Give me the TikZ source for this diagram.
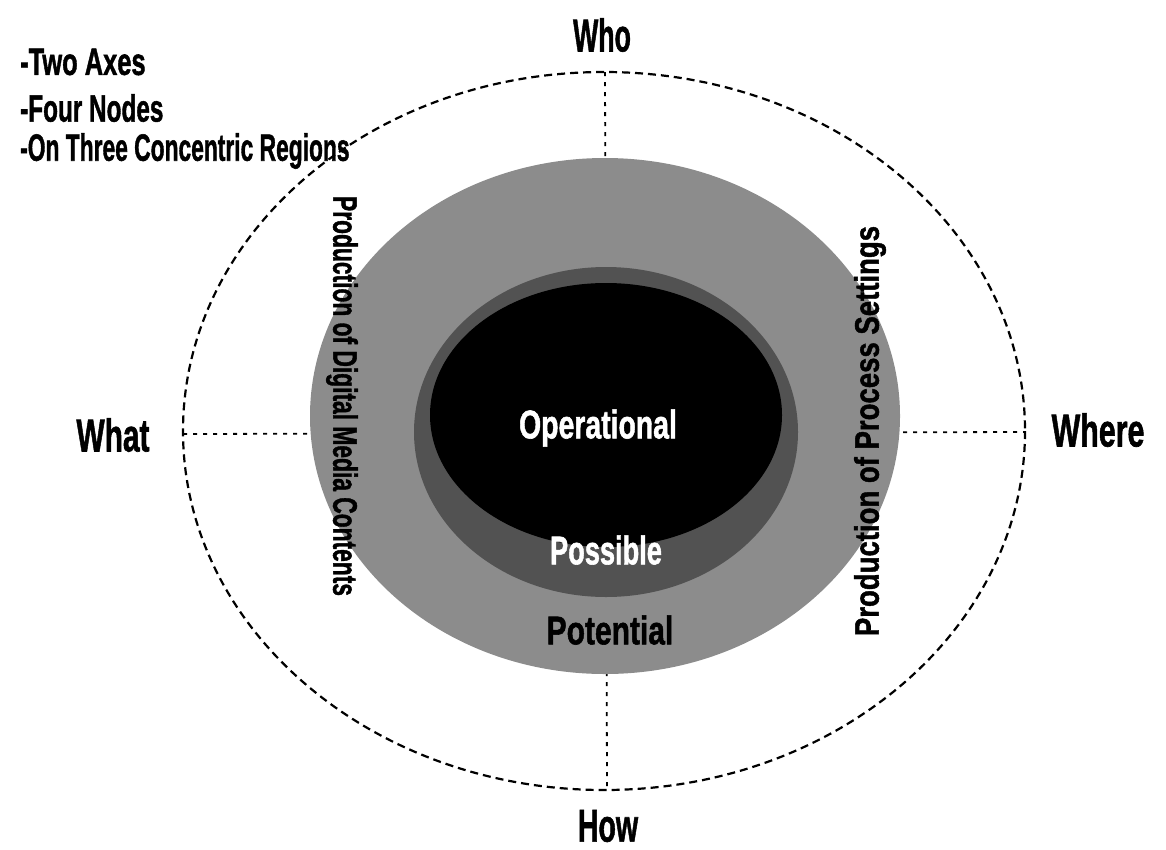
\documentclass[tikz,border=0pt]{standalone}
\usepackage{fontspec}
\setmainfont{Liberation Sans}[BoldFeatures={FakeBold=1.5}]
\usepackage{graphicx}
\newcommand\sqz[2]{\scalebox{#1}[1]{#2}}
\begin{document}
\begin{tikzpicture}[x=1pt,y=-1pt,
  big/.style={font=\fontsize{46}{50}\selectfont\bfseries, inner sep=0pt},
  listtxt/.style={font=\fontsize{38}{42}\selectfont\bfseries, inner sep=0pt, anchor=west},
  region/.style={font=\fontsize{40}{44}\selectfont\bfseries, inner sep=0pt},
  side/.style={font=\fontsize{34}{38}\selectfont\bfseries, inner sep=0pt},
  outer/.style={draw=black, line width=2.2pt, dash pattern=on 8pt off 5pt},
  axis/.style={draw=black, line width=1.8pt, dash pattern=on 4pt off 6pt}]
\useasboundingbox (0,0) rectangle (1166,849);
\coordinate (C) at (604,431);
\coordinate (top) at (605,72);
\coordinate (bot) at (607,790);
\coordinate (lft) at (183,434);
\coordinate (rgt) at (1025,432);
\draw[axis] (top) -- (bot);
\draw[axis] (lft) -- (rgt);
\draw[outer] (C) ellipse [x radius=421, y radius=359];
\fill[black!45] (605,416) ellipse [x radius=295, y radius=258];
\fill[black!68] (606,432) ellipse [x radius=192, y radius=165];
\fill[black] (606,415) ellipse [x radius=176, y radius=132];
% axis labels
\node[big] (who) at (602,35) {\sqz{0.58}{Who}};
\node[big] (what) at (113,435) {\sqz{0.65}{What}};
\node[big] (where) at (1098,430) {\sqz{0.66}{Where}};
\node[big] (how) at (608,826) {\sqz{0.62}{How}};
% list
\node[listtxt] (l1) at (20,62) {\sqz{0.67}{-Two Axes}};
\node[listtxt] (l2) at (20,108) {\sqz{0.64}{-Four Nodes}};
\node[listtxt] (l3) at (20,151) {\sqz{0.60}{-On Three Concentric Regions}};
% regions
\node[region, text=white] (op) at (598,428) {\sqz{0.71}{Operational}};
\node[region, text=white] (pos) at (606,550) {\sqz{0.68}{Possible}};
\node[region, text=black] (pot) at (610,630) {\sqz{0.75}{Potential}};
% side labels
\node[side, rotate=-90] (dig) at (342,396) {\sqz{0.67}{Production of Digital Media Contents}};
\node[side, rotate=90] (proc) at (870,431) {\sqz{0.81}{Production of Process Settings}};
\end{tikzpicture}
\end{document}
